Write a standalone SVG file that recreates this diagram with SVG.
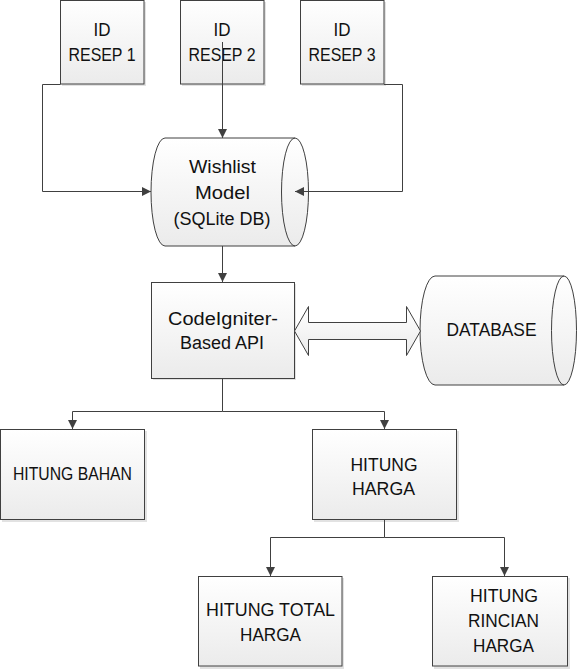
<svg xmlns="http://www.w3.org/2000/svg" width="581" height="669" viewBox="0 0 581 669">
<defs>
<linearGradient id="g" x1="0" y1="0" x2="0" y2="1">
<stop offset="0" stop-color="#ffffff"/>
<stop offset="1" stop-color="#ebebeb"/>
</linearGradient>
<marker id="ah" viewBox="0 0 10 10" refX="10" refY="5" markerWidth="9" markerHeight="9" markerUnits="userSpaceOnUse" orient="auto">
<path d="M0,0 L10,5 L0,10 Z" fill="#404040"/>
</marker>
</defs>
<style>
.box{fill:url(#g);stroke:#404040;stroke-width:1}
.sh{fill:#e2e2e2}
.ln{fill:none;stroke:#404040;stroke-width:1}
.t{font-family:"Liberation Sans",Arial,sans-serif;font-size:18px;fill:#111;text-anchor:middle}
</style>
<g id="resep1">
<rect class="sh" x="62" y="2" width="84" height="84"/>
<rect class="box" x="60.5" y="0.5" width="83.5" height="83.5"/>
<text class="t" x="102" y="36" textLength="17" lengthAdjust="spacingAndGlyphs">ID</text>
<text class="t" x="102" y="61" textLength="67" lengthAdjust="spacingAndGlyphs">RESEP 1</text>
</g>
<g id="resep2">
<rect class="sh" x="182" y="2" width="84" height="84"/>
<rect class="box" x="180.5" y="0.5" width="83.5" height="83.5"/>
<text class="t" x="222" y="36" textLength="17" lengthAdjust="spacingAndGlyphs">ID</text>
<text class="t" x="222" y="61" textLength="67" lengthAdjust="spacingAndGlyphs">RESEP 2</text>
</g>
<g id="resep3">
<rect class="sh" x="302" y="2" width="84" height="84"/>
<rect class="box" x="300.5" y="0.5" width="83.5" height="83.5"/>
<text class="t" x="342" y="36" textLength="17" lengthAdjust="spacingAndGlyphs">ID</text>
<text class="t" x="342" y="61" textLength="67" lengthAdjust="spacingAndGlyphs">RESEP 3</text>
</g>
<g id="wishlist">
<path class="box" d="M165,138 L295,138 A13.5,54 0 0 1 295,246 L165,246 A14,54 0 0 1 165,138 Z"/>
<path class="ln" d="M295,138 A13.5,54 0 0 0 295,246"/>
<text class="t" x="222.5" y="173" font-size="19" textLength="67" lengthAdjust="spacingAndGlyphs">Wishlist</text>
<text class="t" x="222.5" y="199" font-size="19" textLength="55" lengthAdjust="spacingAndGlyphs">Model</text>
<text class="t" x="222" y="224.5" font-size="19" textLength="97" lengthAdjust="spacingAndGlyphs">(SQLite DB)</text>
</g>
<g id="api">
<rect class="sh" x="153" y="284" width="143" height="96"/>
<rect class="box" x="151.5" y="282.5" width="143" height="96"/>
<text class="t" x="223" y="325" font-size="19" textLength="110" lengthAdjust="spacingAndGlyphs">CodeIgniter-</text>
<text class="t" x="222" y="349" font-size="19" textLength="84" lengthAdjust="spacingAndGlyphs">Based API</text>
</g>
<g id="database">
<path class="box" d="M435,276 L564,276 A12.5,54.5 0 0 1 564,385 L435,385 A15,54.5 0 0 1 435,276 Z"/>
<path class="ln" d="M564,276 A12.5,54.5 0 0 0 564,385"/>
<text class="t" x="491.5" y="336" textLength="90" lengthAdjust="spacingAndGlyphs">DATABASE</text>
</g>
<g id="link-api-db">
<path class="box" d="M294.5,331 L308.5,306.5 L308.5,322.5 L406.5,322.5 L406.5,306.5 L420.5,331 L406.5,355.5 L406.5,339.5 L308.5,339.5 L308.5,355.5 Z"/>
</g>
<g id="bahan">
<rect class="sh" x="2" y="431" width="145" height="91"/>
<rect class="box" x="0.5" y="429.5" width="144" height="90"/>
<text class="t" x="72.5" y="480" textLength="119" lengthAdjust="spacingAndGlyphs">HITUNG BAHAN</text>
</g>
<g id="harga">
<rect class="sh" x="314" y="431" width="145" height="91"/>
<rect class="box" x="312.5" y="429.5" width="144" height="90"/>
<text class="t" x="384" y="471" textLength="67" lengthAdjust="spacingAndGlyphs">HITUNG</text>
<text class="t" x="383.5" y="495" textLength="63" lengthAdjust="spacingAndGlyphs">HARGA</text>
</g>
<g id="total">
<rect class="sh" x="200" y="578" width="144" height="91"/>
<rect class="box" x="198.5" y="576.5" width="143.5" height="89.5"/>
<text class="t" x="270.5" y="616" textLength="129" lengthAdjust="spacingAndGlyphs">HITUNG TOTAL</text>
<text class="t" x="270.5" y="641" textLength="61" lengthAdjust="spacingAndGlyphs">HARGA</text>
</g>
<g id="rincian">
<rect class="sh" x="434" y="578" width="136" height="91"/>
<rect class="box" x="432.5" y="576.5" width="135" height="89.5"/>
<text class="t" x="504" y="602" textLength="68" lengthAdjust="spacingAndGlyphs">HITUNG</text>
<text class="t" x="503.5" y="627" textLength="71" lengthAdjust="spacingAndGlyphs">RINCIAN</text>
<text class="t" x="503.5" y="652" textLength="61" lengthAdjust="spacingAndGlyphs">HARGA</text>
</g>
<g id="connectors">
<path class="ln" d="M60.5,84.5 H42.5 V191.5 H151" marker-end="url(#ah)"/>
<path class="ln" d="M222.5,42 V138" marker-end="url(#ah)"/>
<path class="ln" d="M384,84.5 H402.5 V191.5 H295" marker-end="url(#ah)"/>
<path class="ln" d="M222.5,246 V282" marker-end="url(#ah)"/>
<path class="ln" d="M222.5,379 V411.5 H72.5 V429" marker-end="url(#ah)"/>
<path class="ln" d="M222.5,411.5 H384.5 V429" marker-end="url(#ah)"/>
<path class="ln" d="M384.5,520 V537.5 H270.5 V576" marker-end="url(#ah)"/>
<path class="ln" d="M384.5,537.5 H504.5 V576" marker-end="url(#ah)"/>
</g>
</svg>
